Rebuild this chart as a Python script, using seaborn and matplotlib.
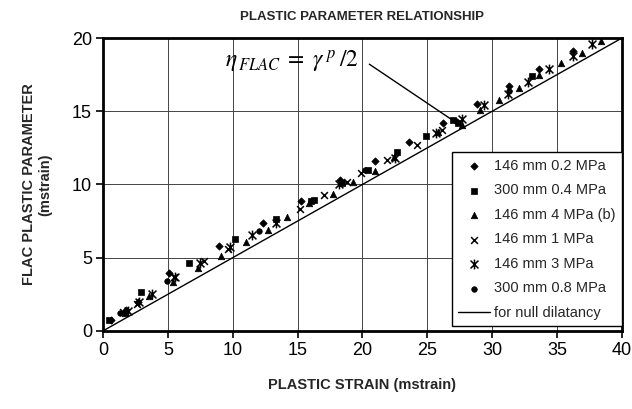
import numpy as np
import pandas as pd
import matplotlib
matplotlib.use("Agg")
import matplotlib.pyplot as plt
from matplotlib.path import Path
import seaborn as sns

# ---- data ----
d02_x = [0.6, 1.8, 2.7, 5.1, 8.94, 12.3, 15.3, 18.3, 21.0, 23.6, 26.2, 28.8, 31.3, 33.6, 36.2]
d02_y = [0.75, 1.4, 1.95, 3.94, 5.8, 7.35, 8.9, 10.3, 11.6, 12.9, 14.2, 15.5, 16.7, 17.9, 19.1]

s04_x = [0.45, 2.93, 6.65, 10.2, 13.3, 16.0, 16.3, 18.4, 20.4, 22.7, 24.9, 27.0, 27.4, 33.1]
s04_y = [0.72, 2.66, 4.62, 6.3, 7.65, 8.85, 8.95, 10.1, 11.0, 12.24, 13.3, 14.4, 14.2, 17.4]

t4_x = [1.7, 3.57, 5.37, 7.35, 9.1, 11.0, 12.74, 14.2, 15.9, 17.75, 19.3, 20.96, 22.4,
        25.85, 27.65, 29.1, 30.5, 32.1, 33.6, 35.3, 36.9, 38.4]
t4_y = [1.25, 2.39, 3.37, 4.3, 5.14, 6.1, 6.92, 7.8, 8.7, 9.37, 10.2, 10.94, 11.9,
        13.6, 14.06, 15.1, 15.8, 16.6, 17.5, 18.3, 19.0, 19.8]

x1_x = [1.57, 2.6, 5.5, 7.78, 9.66, 15.2, 17.0, 18.8, 19.9, 21.9, 24.2, 26.1]
x1_y = [1.3, 1.85, 3.7, 4.8, 5.6, 8.3, 9.28, 10.2, 10.8, 11.7, 12.7, 13.7]

a3_x = [1.9, 2.8, 3.75, 5.55, 7.48, 9.8, 11.5, 13.33, 18.2, 22.5, 25.7, 27.7, 29.4,
        31.2, 32.8, 34.4, 36.2, 37.7]
a3_y = [1.35, 1.95, 2.55, 3.65, 4.66, 5.75, 6.55, 7.35, 10.0, 11.8, 13.5, 14.5, 15.4,
        16.2, 17.0, 17.9, 18.8, 19.6]

c08_x = [1.3, 4.9, 12.0, 20.2, 27.2, 31.3]
c08_y = [1.2, 3.4, 6.85, 11.0, 14.3, 16.4]

null_x = [0, 40]
null_y = [0, 20]

labels = ["146 mm 0.2 MPa", "300 mm 0.4 MPa", "146 mm 4 MPa (b)",
          "146 mm 1 MPa", "146 mm 3 MPa", "300 mm 0.8 MPa"]
null_label = "for null dilatancy"

x_ticks = [0, 5, 10, 15, 20, 25, 30, 35, 40]
y_ticks = [0, 5, 10, 15, 20]

# ---- style ----
sns.set_theme(style="white")
plt.rcParams["font.family"] = ["Liberation Sans", "DejaVu Sans"]
plt.rcParams["mathtext.fontset"] = "stix"

fig = plt.figure(figsize=(6.32, 4.09), dpi=100)
ax = fig.add_axes([0.163, 0.191, 0.821, 0.716])

# asterisk like marker: vertical bar + X
ast = Path([(0, -1), (0, 1), (-0.8, -0.8), (0.8, 0.8), (-0.8, 0.8), (0.8, -0.8)],
           [Path.MOVETO, Path.LINETO, Path.MOVETO, Path.LINETO, Path.MOVETO, Path.LINETO])

series = [
    (d02_x, d02_y, "D", 14, "fill"),
    (s04_x, s04_y, "s", 20, "fill"),
    (t4_x, t4_y, "^", 22, "fill"),
    (x1_x, x1_y, "x", 24, "line"),
    (a3_x, a3_y, ast, 50, "path"),
    (c08_x, c08_y, "o", 16, "fill"),
]

for (xs, ys, mk, sz, kind), lab in zip(series, labels):
    df = pd.DataFrame({"x": xs, "y": ys})
    if kind == "fill":
        sns.scatterplot(data=df, x="x", y="y", marker=mk, s=sz, color="black",
                        edgecolor="black", linewidth=0.5, ax=ax, label=lab, zorder=3)
    elif kind == "line":
        sns.scatterplot(data=df, x="x", y="y", marker=mk, s=sz, color="black",
                        linewidth=1.1, ax=ax, label=lab, zorder=3)
    else:
        sns.scatterplot(data=df, x="x", y="y", marker=mk, s=sz, color="black",
                        edgecolor="black", linewidth=1.1, ax=ax, label=lab, zorder=3)

sns.lineplot(x=null_x, y=null_y, color="black", linewidth=1.0, ax=ax,
             label=null_label, zorder=2)

ax.set_xlim(0, 40)
ax.set_ylim(0, 20)
ax.set_xticks(x_ticks)
ax.set_yticks(y_ticks)
ax.set_xticklabels([str(t) for t in x_ticks], fontsize=13)
ax.set_yticklabels([str(t) for t in y_ticks], fontsize=13)
ax.grid(True, color="#444444", linewidth=0.7)
ax.set_axisbelow(True)
for sp in ax.spines.values():
    sp.set_color("black")
    sp.set_linewidth(2.0)
    sp.set_visible(True)
ax.tick_params(axis="both", which="major", direction="out", length=5, width=1.2,
               color="black", bottom=True, left=True, pad=3, labelcolor="black")

ax.set_xlabel("PLASTIC STRAIN (mstrain)", fontsize=10.5, fontweight="bold", labelpad=14)
ax.set_ylabel("FLAC PLASTIC PARAMETER\n(mstrain)", fontsize=10.5, fontweight="bold",
              labelpad=14)
ax.set_title("PLASTIC PARAMETER RELATIONSHIP", fontsize=9.5, fontweight="bold", pad=13)

ax.annotate(r"$\eta_{\,FLAC}\;=\;\gamma^{\;p}\,/2$", xy=(27.6, 14.0), xytext=(9.4, 18.0),
            fontsize=17, color="black",
            arrowprops=dict(arrowstyle="-", color="black", linewidth=1.0,
                            shrinkA=0, shrinkB=0, relpos=(1.08, 0.4)))

leg = ax.legend(loc="lower right", bbox_to_anchor=(1.0, 0.015), borderaxespad=0,
                fontsize=10.5, frameon=True, fancybox=False, edgecolor="black",
                framealpha=1, handlelength=2.2, handletextpad=0.25,
                labelspacing=0.72, borderpad=0.45)
leg.get_frame().set_linewidth(1.0)

fig.savefig("out.png", dpi=100)
